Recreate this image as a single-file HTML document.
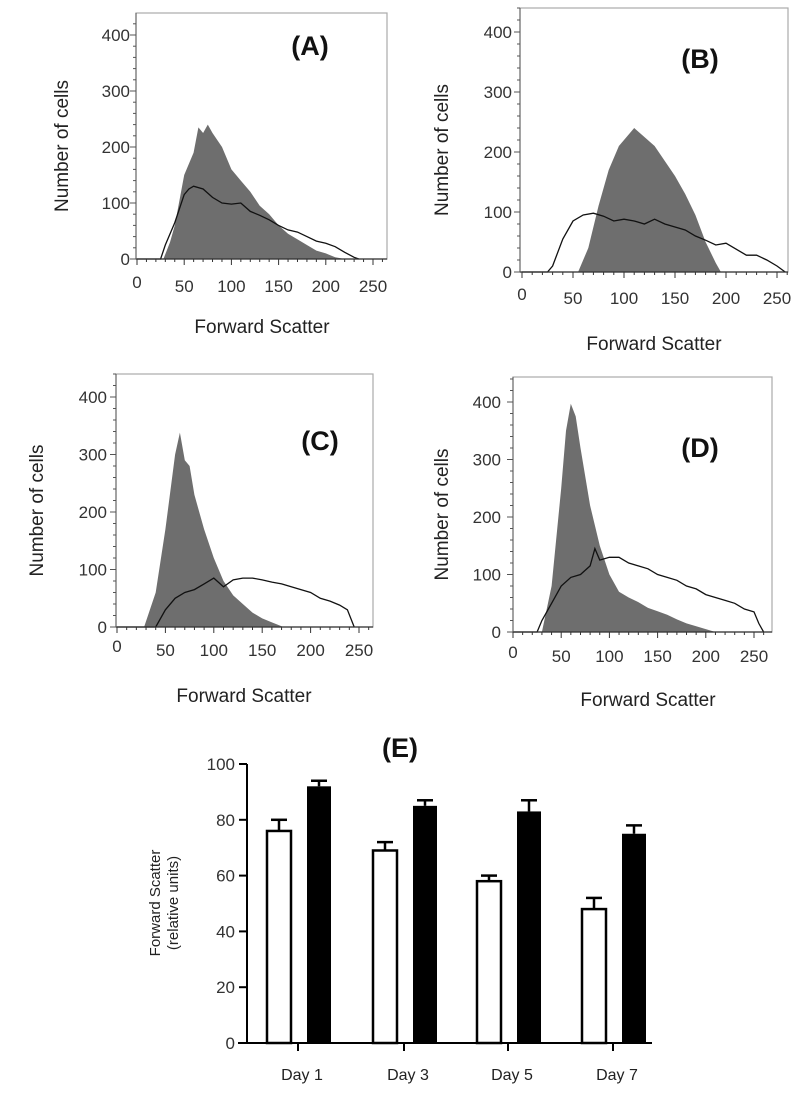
<!DOCTYPE html>
<html><head><meta charset="utf-8">
<style>
body{margin:0;background:#fff;width:800px;height:1093px;overflow:hidden;font-family:"Liberation Sans",sans-serif}
svg{display:block}
</style></head><body>
<svg id="fig" width="800" height="1093"></svg>
<script>
// ---- Data ----
const panelLabels = ["(A)","(B)","(C)","(D)"];
const histYTicks = [0,100,200,300,400];
const histXTicks = [0,50,100,150,200,250];
const aFillX = [28,35,40,50,60,65,70,75,80,90,100,110,120,130,140,150,160,170,180,190,200,210,220];
const aFillY = [0,30,60,150,190,235,225,240,225,200,160,140,120,95,80,60,45,35,25,15,10,3,0];
const aLineX = [25,30,40,50,55,60,70,80,90,100,110,120,130,140,150,160,170,180,190,200,210,220,230,235];
const aLineY = [0,25,65,115,125,130,125,110,100,98,100,85,78,70,60,52,48,40,32,28,22,12,3,0];
const bFillX = [55,65,75,85,95,105,110,120,130,140,150,160,170,180,190,195];
const bFillY = [0,40,110,170,210,230,240,225,210,185,160,130,95,50,15,0];
const bLineX = [25,30,40,50,60,70,80,90,100,110,120,130,140,150,160,170,180,190,200,210,220,230,240,250,258];
const bLineY = [0,10,55,85,95,98,93,85,88,85,80,88,80,75,70,60,53,45,48,38,28,28,20,10,0];
const cFillX = [28,40,50,60,65,70,75,80,90,100,110,120,130,140,150,160,172];
const cFillY = [0,60,170,300,338,290,280,230,170,120,80,55,40,25,15,8,0];
const cLineX = [40,50,60,70,80,90,100,110,120,130,140,150,160,170,180,190,200,210,220,230,238,245];
const cLineY = [0,30,50,60,65,75,85,70,82,85,85,82,78,75,70,65,60,50,45,38,30,0];
const dFillX = [30,40,50,55,60,65,70,80,90,100,110,120,130,140,150,160,170,180,190,200,210];
const dFillY = [0,80,250,350,397,375,320,220,150,100,70,60,52,42,36,30,22,15,10,5,0];
const dLineX = [25,30,40,50,60,70,80,85,90,100,110,120,130,140,150,160,170,180,190,200,210,220,230,240,250,255,260];
const dLineY = [0,20,50,80,95,100,115,145,125,130,130,120,115,110,100,95,90,80,75,65,60,55,50,40,35,15,0];

const days = ["Day 1","Day 3","Day 5","Day 7"];
const whiteVals = [76,69,58,48];
const whiteErr = [4,3,2,4];
const blackVals = [92,85,83,75];
const blackErr = [2,2,4,3];
const barYTicks = [0,20,40,60,80,100];

// ---- Drawing ----
const NS="http://www.w3.org/2000/svg";
const svg=document.getElementById('fig');
function mk(tag,attrs,parent,txt){const e=document.createElementNS(NS,tag);for(const k in attrs)e.setAttribute(k,attrs[k]);if(txt!==undefined)e.textContent=txt;(parent||svg).appendChild(e);return e;}

const geoms=[
 {bl:136,br:387,bt:13,x0:137,x250:373,y0:259,y400:35,lblX:310,lblY:55,ylab:68,ytl:130,xlY:292,xtitleY:333,xtitleX:262},
 {bl:520,br:788,bt:8,x0:522,x250:777,y0:272,y400:32,lblX:700,lblY:68,ylab:448,ytl:512,xlY:304,xtitleY:350,xtitleX:654},
 {bl:116,br:373,bt:374,x0:117,x250:359,y0:627,y400:397,lblX:320,lblY:450,ylab:43,ytl:107,xlY:656,xtitleY:702,xtitleX:244},
 {bl:513,br:772,bt:377,x0:513,x250:754,y0:632,y400:402,lblX:700,lblY:457,ylab:448,ytl:501,xlY:662,xtitleY:706,xtitleX:648}
];
const fills=[[aFillX,aFillY],[bFillX,bFillY],[cFillX,cFillY],[dFillX,dFillY]];
const lines=[[aLineX,aLineY],[bLineX,bLineY],[cLineX,cLineY],[dLineX,dLineY]];
const names=['a','b','c','d'];

geoms.forEach((g,i)=>{
  const sx=v=>g.x0+(g.x250-g.x0)*v/250;
  const sy=v=>g.y0-(g.y0-g.y400)*v/400;
  const grp=mk('g',{});
  
  
  const box=mk('rect',{x:g.bl,y:g.bt,width:g.br-g.bl,height:g.y0-g.bt,fill:'none',stroke:'#aaa','stroke-width':1.2},grp);
  
  
  const [fx,fy]=fills[i];
  let d='M'+sx(fx[0])+','+sy(0);
  fx.forEach((x,j)=>{d+=' L'+sx(x).toFixed(1)+','+sy(fy[j]).toFixed(1);});
  d+=' L'+sx(fx[fx.length-1])+','+sy(0)+'Z';
  const fp=mk('path',{d:d,fill:'#6e6e6e'},grp);
  
  
  const [lx,ly]=lines[i];
  let dl='M'+sx(0)+','+sy(0)+' L'+sx(lx[0])+','+sy(0);
  lx.forEach((x,j)=>{dl+=' L'+sx(x).toFixed(1)+','+sy(ly[j]).toFixed(1);});
  const lp=mk('path',{d:dl,fill:'none',stroke:'#111','stroke-width':1.3},grp);
  
  
  mk('line',{x1:g.bl,y1:g.y0,x2:g.br,y2:g.y0,stroke:'#333','stroke-width':1.2},grp);
  mk('line',{x1:g.bl,y1:g.bt,x2:g.bl,y2:g.y0,stroke:'#555','stroke-width':1},grp);
  for(let v=0;v<=440;v+=20){const y=sy(v);if(y<g.bt)break;mk('line',{x1:g.bl-(v%100?3:6),y1:y,x2:g.bl,y2:y,stroke:'#555','stroke-width':1},grp);}
  histYTicks.forEach(v=>{const t=mk('text',{x:g.ytl,y:sy(v)+6,'text-anchor':'end','font-size':17,fill:'#333'},grp,String(v));
    });
  for(let v=0;v<=260;v+=10){const x=sx(v);if(x>g.br)break;mk('line',{x1:x,y1:g.y0,x2:x,y2:g.y0+(v%50?3:6),stroke:'#333','stroke-width':1},grp);}
  histXTicks.forEach((v,j)=>{const t=mk('text',{x:sx(v),y:g.xlY+(j===0?-4:0),'text-anchor':'middle','font-size':17,fill:'#333'},grp,String(v));
    });
  const yt=mk('text',{x:0,y:0,transform:'translate('+g.ylab+','+((g.bt+g.y0)/2+10)+') rotate(-90)','text-anchor':'middle','font-size':19,fill:'#222'},grp,'Number of cells');
  
  const xt=mk('text',{x:g.xtitleX,y:g.xtitleY,'text-anchor':'middle','font-size':19,fill:'#222'},grp,'Forward Scatter');
  
  const pl=mk('text',{x:g.lblX,y:g.lblY,'text-anchor':'middle','font-size':27,'font-weight':'bold',fill:'#111'},grp,panelLabels[i]);
  
});

// ---- Bar chart E ----
const eg=mk('g',{});


const ex0=247, ey0=1043, ey100=764;
const by=v=>ey0-(ey0-ey100)*v/100;
const dayX=[298,404,508,613];
const el=mk('text',{x:400,y:757,'text-anchor':'middle','font-size':27,'font-weight':'bold',fill:'#111'},eg,'(E)');

mk('line',{x1:ex0,y1:by(100),x2:ex0,y2:ey0,stroke:'#000','stroke-width':2},eg);
mk('line',{x1:238,y1:ey0,x2:652,y2:ey0,stroke:'#000','stroke-width':2},eg);
barYTicks.forEach(v=>{mk('line',{x1:ex0-8,y1:by(v),x2:ex0,y2:by(v),stroke:'#000','stroke-width':2},eg);
  const t=mk('text',{x:ex0-12,y:by(v)+6,'text-anchor':'end','font-size':17,fill:'#333'},eg,String(v));
  });
days.forEach((dname,i)=>{
  const cx=dayX[i];
  mk('line',{x1:cx,y1:ey0,x2:cx,y2:ey0+8,stroke:'#000','stroke-width':2},eg);
  const t=mk('text',{x:cx+4,y:1080,'text-anchor':'middle','font-size':16,fill:'#222'},eg,dname);
  
  const wx=cx-31, bw=24;
  mk('line',{x1:wx+bw/2,y1:by(whiteVals[i]),x2:wx+bw/2,y2:by(whiteVals[i]+whiteErr[i]),stroke:'#000','stroke-width':2.5},eg);
  mk('line',{x1:wx+bw/2-8,y1:by(whiteVals[i]+whiteErr[i]),x2:wx+bw/2+8,y2:by(whiteVals[i]+whiteErr[i]),stroke:'#000','stroke-width':2.5},eg);
  const wb=mk('rect',{x:wx,y:by(whiteVals[i]),width:bw,height:ey0-by(whiteVals[i]),fill:'#fff',stroke:'#000','stroke-width':2.5},eg);
  
  const kx=cx+9;
  mk('line',{x1:kx+bw/2,y1:by(blackVals[i]),x2:kx+bw/2,y2:by(blackVals[i]+blackErr[i]),stroke:'#000','stroke-width':2.5},eg);
  mk('line',{x1:kx+bw/2-8,y1:by(blackVals[i]+blackErr[i]),x2:kx+bw/2+8,y2:by(blackVals[i]+blackErr[i]),stroke:'#000','stroke-width':2.5},eg);
  const kb=mk('rect',{x:kx,y:by(blackVals[i]),width:bw,height:ey0-by(blackVals[i]),fill:'#000'},eg);
  
});
const yt1=mk('text',{x:0,y:0,transform:'translate(160,903) rotate(-90)','text-anchor':'middle','font-size':15,fill:'#222'},eg,'Forward Scatter');

const yt2=mk('text',{x:0,y:0,transform:'translate(178,903) rotate(-90)','text-anchor':'middle','font-size':15,fill:'#222'},eg,'(relative units)');

</script>
</body></html>
